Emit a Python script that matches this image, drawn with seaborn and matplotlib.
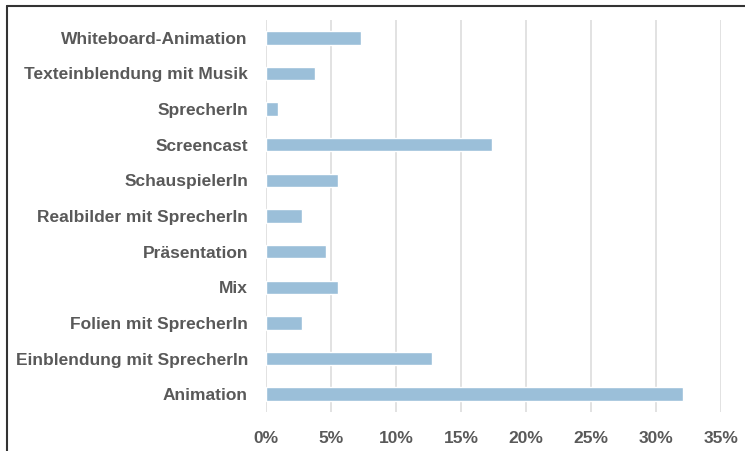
import matplotlib
matplotlib.use("Agg")
import matplotlib.pyplot as plt
import seaborn as sns
import pandas as pd
from matplotlib.ticker import PercentFormatter, MultipleLocator
from matplotlib.lines import Line2D

# Daten
kategorien = [
    "Whiteboard-Animation", "Texteinblendung mit Musik", "SprecherIn",
    "Screencast", "SchauspielerIn", "Realbilder mit SprecherIn",
    "Präsentation", "Mix", "Folien mit SprecherIn",
    "Einblendung mit SprecherIn", "Animation",
]
anteile = [0.073, 0.038, 0.009, 0.174, 0.055, 0.028, 0.046, 0.055, 0.028, 0.128, 0.321]

df = pd.DataFrame({"Kategorie": kategorien, "Anteil": anteile})

sns.set_theme(style="white")
plt.rcParams["font.family"] = ["Liberation Sans", "DejaVu Sans"]
text_col = "#595959"

fig = plt.figure(figsize=(7.45, 4.51), dpi=100)
ax = fig.add_axes([266 / 745, 1 - 412 / 451, (721 - 266) / 745, (412 - 20) / 451])

sns.barplot(data=df, x="Anteil", y="Kategorie", color="#9BBFD9",
            saturation=1, width=0.38, ax=ax, zorder=3)

ax.set_xlim(0, 0.35)
ax.set_ylim(10.5, -0.5)
ax.xaxis.set_major_locator(MultipleLocator(0.05))
ax.xaxis.set_major_formatter(PercentFormatter(1.0, decimals=0))
ax.grid(axis="x", color="#DDDDDD", linewidth=1.2, zorder=0)
ax.set_axisbelow(True)
for s in ax.spines.values():
    s.set_visible(False)
ax.set_xlabel("")
ax.set_ylabel("")
ax.tick_params(axis="both", length=0, colors=text_col)
ax.tick_params(axis="y", pad=13)
ax.tick_params(axis="x", pad=14)
for lbl in ax.get_yticklabels() + ax.get_xticklabels():
    lbl.set_fontweight("bold")
    lbl.set_fontsize(12.5)
    lbl.set_color(text_col)

# Rahmen oben und links
fig.add_artist(Line2D([7 / 745, 7 / 745], [0, 1 - 6 / 451], transform=fig.transFigure,
                      color="#333333", linewidth=1.5))
fig.add_artist(Line2D([7 / 745, 1], [1 - 6 / 451, 1 - 6 / 451], transform=fig.transFigure,
                      color="#333333", linewidth=1.5))

fig.savefig("out.png", dpi=100)
